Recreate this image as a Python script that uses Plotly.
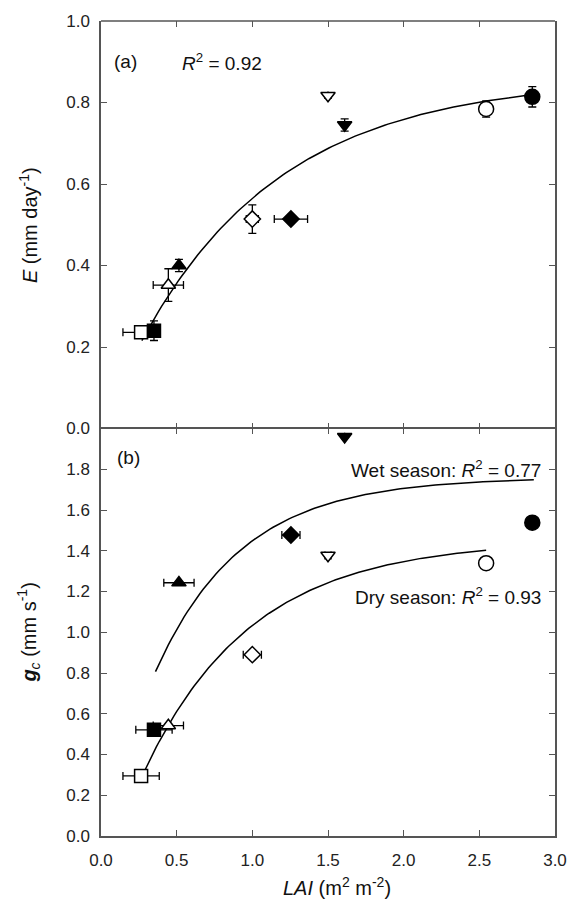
import numpy as np
import plotly.graph_objects as go
from plotly.subplots import make_subplots

# ---- data ----
lai = [0.265, 0.35, 0.445, 0.515, 1.00, 1.255, 1.50, 1.61, 2.545, 2.85]
symbols = ['square', 'square', 'triangle-up', 'triangle-up', 'diamond', 'diamond',
           'triangle-down', 'triangle-down', 'circle', 'circle']
filled = [False, True, False, True, False, True, False, True, False, True]

E = [0.236, 0.240, 0.352, 0.400, 0.514, 0.514, 0.817, 0.745, 0.784, 0.814]
E_err = [None, 0.024, 0.040, 0.015, 0.035, None, 0.006, 0.015, 0.020, 0.025]
lai_err_a = [0.12, None, 0.10, None, 0.04, 0.11, None, None, None, None]

gc = [0.295, 0.521, 0.542, 1.243, 0.890, 1.477, 1.377, 1.960, 1.339, 1.538]
gc_err = [None, 0.02, None, None, None, None, None, None, None, None]
lai_err_b = [0.12, 0.12, 0.10, 0.10, 0.06, 0.06, 0.02, None, None, None]

# fitted curves y = a - b*exp(-c*x)
fit_E = dict(a=0.86, b=0.86, c=1.07, x0=0.27, x1=2.85)
fit_wet = dict(a=1.76, b=1.79, c=1.75, x0=0.36, x1=2.86)
fit_dry = dict(a=1.45, b=1.69, c=1.40, x0=0.27, x1=2.545)

x_ticks = [0.0, 0.5, 1.0, 1.5, 2.0, 2.5, 3.0]
y_ticks_a = [0.0, 0.2, 0.4, 0.6, 0.8, 1.0]
y_ticks_b = [0.0, 0.2, 0.4, 0.6, 0.8, 1.0, 1.2, 1.4, 1.6, 1.8]

FONT = "Liberation Sans, Arial, sans-serif"
AX = '#555555'
sizes = {'square': 13, 'circle': 15, 'triangle-up': 12.5, 'triangle-down': 12.5, 'diamond': 12.5}


def curve(p):
    xs = np.linspace(p['x0'], p['x1'], 120)
    return xs, p['a'] - p['b'] * np.exp(-p['c'] * xs)


fig = make_subplots(rows=2, cols=1, shared_xaxes=True, vertical_spacing=0)

for p, row in [(fit_E, 1), (fit_wet, 2), (fit_dry, 2)]:
    xs, ys = curve(p)
    fig.add_trace(go.Scatter(x=xs, y=ys, mode='lines', line=dict(color='black', width=1.5),
                             showlegend=False, hoverinfo='skip'), row=row, col=1)

mk = dict(symbol=symbols,
          size=[sizes[s] for s in symbols],
          opacity=1,
          color=['black' if f else 'white' for f in filled],
          line=dict(color='black', width=1.5))
eb = dict(type='data', color='black', thickness=1.3, width=4)

fig.add_trace(go.Scatter(x=lai, y=E, mode='markers', marker=mk, showlegend=False, cliponaxis=False,
                         error_x=dict(array=lai_err_a, **eb), error_y=dict(array=E_err, **eb)),
              row=1, col=1)
fig.add_trace(go.Scatter(x=lai, y=gc, mode='markers', marker=mk, showlegend=False, cliponaxis=True,
                         error_x=dict(array=lai_err_b, **eb), error_y=dict(array=gc_err, **eb)),
              row=2, col=1)

axis_common = dict(linecolor=AX, linewidth=1.5, mirror='ticks', ticks='inside',
                   ticklen=6, tickwidth=1.3, tickcolor=AX, showgrid=False, zeroline=False,
                   tickfont=dict(family=FONT, size=17, color='#222222'))

fig.update_xaxes(range=[0, 3], tickvals=x_ticks, showline=True, **axis_common)
fig.update_xaxes(showticklabels=False, showline=False, row=1, col=1)
fig.update_xaxes(tickformat='.1f', ticklabelstandoff=8, row=2, col=1)
fig.update_yaxes(range=[0, 1.0], tickvals=y_ticks_a, tickformat='.1f', ticklabelstandoff=6,
                 showline=True, row=1, col=1, **axis_common)
fig.update_yaxes(range=[0, 2.0], tickvals=y_ticks_b, tickformat='.1f', ticklabelstandoff=6,
                 showline=True, row=2, col=1, **axis_common)

# top border of the upper panel
fig.add_shape(type='line', xref='paper', yref='paper', x0=0, x1=1, y0=1, y1=1,
              line=dict(color=AX, width=1.5))

af = dict(family=FONT, size=19, color='#111111')
ann = [
    dict(x=0.07, y=0.90, xref='x', yref='y', text='(a)', xanchor='left', yanchor='middle'),
    dict(x=0.52, y=0.90, xref='x', yref='y', text='<i>R</i><sup>2</sup> = 0.92', xanchor='left', yanchor='middle'),
    dict(x=0.09, y=1.86, xref='x2', yref='y2', text='(b)', xanchor='left', yanchor='middle'),
    dict(x=2.92, y=1.80, xref='x2', yref='y2', text='Wet season: <i>R</i><sup>2</sup> = 0.77', xanchor='right', yanchor='middle'),
    dict(x=2.92, y=1.18, xref='x2', yref='y2', text='Dry season: <i>R</i><sup>2</sup> = 0.93', xanchor='right', yanchor='middle'),
]
for a in ann:
    fig.add_annotation(showarrow=False, font=af, **a)

tf = dict(family=FONT, size=20, color='#111111')
fig.add_annotation(x=-0.16, y=0.75, xref='paper', yref='paper', text='<i>E</i> (mm day<sup>-1</sup>)',
                   textangle=-90, showarrow=False, font=tf, xanchor='center', yanchor='middle')
fig.add_annotation(x=-0.16, y=0.25, xref='paper', yref='paper', text='<i><b>g</b><sub>c</sub></i> (mm s<sup>-1</sup>)',
                   textangle=-90, showarrow=False, font=tf, xanchor='center', yanchor='middle')
fig.add_annotation(x=0.519, y=-0.062, xref='paper', yref='paper', text='<i>LAI</i> (m<sup>2</sup> m<sup>-2</sup>)',
                   showarrow=False, font=tf, xanchor='center', yanchor='middle')

fig.update_layout(width=579, height=900, margin=dict(l=101, r=20, t=12, b=64),
                  plot_bgcolor='white', paper_bgcolor='white', font=dict(family=FONT))

fig.write_html("out.html")
